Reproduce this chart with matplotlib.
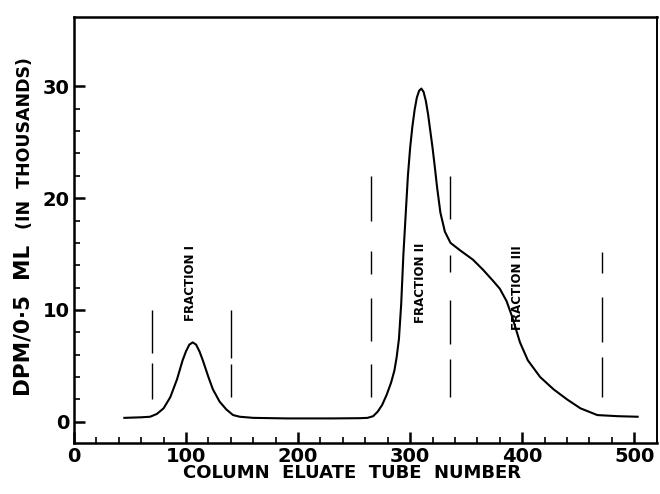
import matplotlib.pyplot as plt
import numpy as np

# 洗脱曲线数据 (管号, DPM/0.5 mL 千)
tube = [45, 60, 68, 74, 80, 86, 92, 97, 100, 103, 106, 109, 112, 115, 120,
        124, 130, 136, 142, 148, 160, 190, 230, 255, 262, 267, 271, 275, 279,
        283, 286, 288, 290, 292, 294, 296, 298, 300, 302, 304, 306, 308, 310,
        312, 314, 316, 318, 320, 322, 324, 327, 331, 336, 345, 356, 365, 374,
        380, 386, 391, 398, 405, 416, 428, 440, 452, 467, 485, 503]
dpm = [0.35, 0.4, 0.45, 0.7, 1.2, 2.2, 3.8, 5.5, 6.3, 6.9, 7.1, 6.9, 6.3, 5.5,
       4.0, 2.9, 1.8, 1.1, 0.6, 0.45, 0.35, 0.3, 0.3, 0.32, 0.35, 0.5, 0.9,
       1.5, 2.4, 3.5, 4.6, 5.8, 7.4, 10.5, 15.0, 18.5, 22.0, 24.5, 26.4, 27.9,
       29.0, 29.6, 29.8, 29.5, 28.7, 27.5, 26.0, 24.5, 22.8, 21.0, 18.7, 17.0,
       16.0, 15.3, 14.5, 13.6, 12.6, 11.9, 10.8, 9.4, 7.1, 5.5, 4.0, 2.9, 2.0,
       1.2, 0.6, 0.5, 0.45]

# 分段虚线位置及上下端
cut_x = [70, 140, 265, 336, 471]
cut_top = [10, 10, 22, 22, 15.2]
cut_bottom = [2, 2.2, 2.2, 2.2, 2.2]
# 各条虚线的线段/间隔 (像素, 自上而下)
cut_dash = [(43, 10, 37, 40),
            (48, 6, 34, 40),
            (45, 30, 23, 24, 43, 23, 34, 40),
            (43, 36, 17, 28, 44, 15, 41, 40),
            (21, 24, 45, 15, 40, 40)]

# 组分标注
frac_labels = ['FRACTION I', 'FRACTION II', 'FRACTION III']
frac_x = [104, 309, 396]
frac_y = [12.4, 12.4, 12.0]

plt.rcParams['font.family'] = ['DejaVu Sans']
plt.rcParams['font.weight'] = 'bold'

fig = plt.figure(figsize=(6.6, 4.94), dpi=100)
ax = fig.add_axes([0.112, 0.1032, 0.883, 0.8624])

ax.plot(tube, dpm, color='k', lw=1.5, solid_joinstyle='round')

for xx, t, b, d in zip(cut_x, cut_top, cut_bottom, cut_dash):
    ax.plot([xx, xx], [t, b], color='k', lw=1.0,
            dashes=[v * 0.72 for v in d])

for s, xx, yy in zip(frac_labels, frac_x, frac_y):
    ax.text(xx, yy, s, rotation=90, ha='center', va='center',
            fontsize=8.5, fontweight='bold')

ax.set_xlim(0, 520)
ax.set_ylim(-1.9, 36.2)
ax.set_xticks([0, 100, 200, 300, 400, 500])
ax.set_xticks([v for v in range(20, 500, 20) if v % 100], minor=True)
ax.set_yticks([0, 10, 20, 30])
ax.set_yticks([v for v in range(2, 30, 2) if v % 10], minor=True)

ax.tick_params(which='major', direction='in', length=8, width=1.8,
               labelsize=14, pad=3)
ax.tick_params(which='minor', direction='in', length=4.5, width=1.2)
ax.tick_params(top=False, right=False)
for side in ['left', 'bottom', 'top']:
    ax.spines[side].set_linewidth(1.8)
ax.spines['right'].set_linewidth(1.4)

ax.set_xlabel('COLUMN  ELUATE  TUBE  NUMBER', fontsize=13,
              fontweight='bold')
ax.xaxis.set_label_coords(0.478, -0.05, transform=ax.transAxes)
ax.xaxis.label.set_va('top')

# 纵轴标题分两段，括号部分字号较小
fig.text(0.036, 1 - 396 / 494, 'DPM/0·5  ML', rotation=90,
         ha='center', va='bottom', fontsize=15.5, fontweight='bold')
fig.text(0.038, 1 - 229 / 494, '(IN  THOUSANDS)', rotation=90,
         ha='center', va='bottom', fontsize=12.5, fontweight='bold')

fig.savefig('out.png', dpi=100)
